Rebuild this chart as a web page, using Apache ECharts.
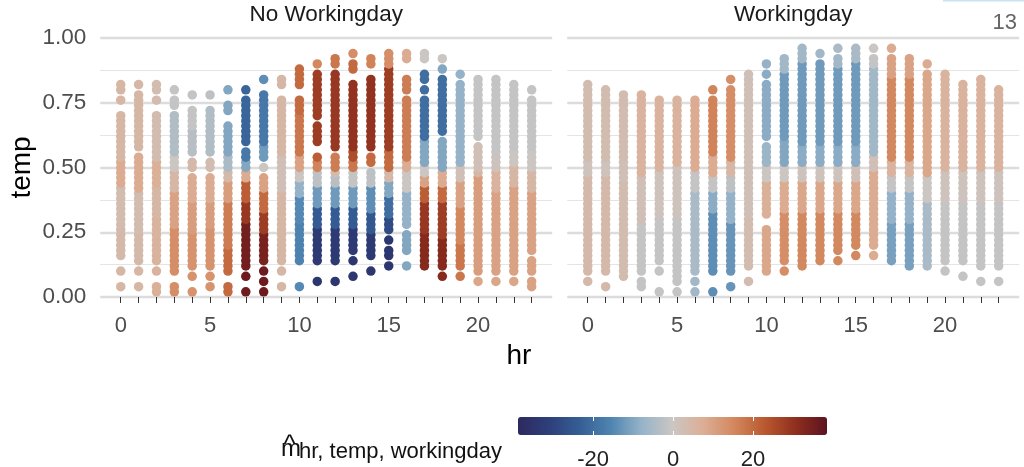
<!DOCTYPE html>
<html><head><meta charset="utf-8">
<script src="https://cdn.jsdelivr.net/npm/echarts@6/dist/echarts.min.js"></script>
<style>html,body{margin:0;padding:0;background:#fff}#c{width:1024px;height:467px}</style>
</head><body><div id="c"></div>
<script>
// ---------------- data ----------------
const hours = [0,1,2,3,4,5,6,7,8,9,10,11,12,13,14,15,16,17,18,19,20,21,22,23];
const hourLabels = [0,5,10,15,20];
const tempTicks = [0,0.25,0.5,0.75,1];
const legendTicks = [-20,0,20];
const effectRange = [-38.8, 38.5];
const panelTitles = ['No Workingday','Workingday'];

// per hour: observed temp runs [tempFrom, tempTo, effect m̂] (temps observed every 0.02)
const noWorkingday = [
 [[0.04,0.04,5],[0.10,0.10,5],[0.16,0.26,4],[0.28,0.42,3],[0.44,0.52,8],[0.54,0.70,5],[0.76,0.76,5],[0.80,0.82,5]],
 [[0.04,0.04,5],[0.10,0.10,5],[0.14,0.24,4],[0.26,0.40,3],[0.42,0.54,8],[0.58,0.78,5],[0.82,0.82,5]],
 [[0.02,0.04,7],[0.10,0.10,6],[0.14,0.30,6],[0.32,0.42,5],[0.44,0.52,7],[0.54,0.70,3],[0.76,0.76,3],[0.80,0.82,3]],
 [[0.02,0.04,14],[0.10,0.26,14],[0.28,0.40,10],[0.42,0.48,5],[0.50,0.54,0],[0.56,0.70,-4],[0.74,0.76,-1],[0.80,0.80,-1]],
 [[0.02,0.02,13],[0.08,0.08,13],[0.12,0.24,13],[0.26,0.36,11],[0.38,0.46,8],[0.50,0.52,4],[0.56,0.64,-3],[0.66,0.72,-1],[0.78,0.78,-1]],
 [[0.04,0.04,13],[0.08,0.08,13],[0.12,0.26,13],[0.28,0.36,11],[0.38,0.46,8],[0.50,0.52,3],[0.56,0.72,-4],[0.78,0.78,-2]],
 [[0.02,0.04,20],[0.10,0.18,20],[0.20,0.36,17],[0.38,0.44,11],[0.46,0.48,4],[0.50,0.54,-5],[0.56,0.66,-10],[0.72,0.74,-10],[0.80,0.80,-10]],
 [[0.02,0.02,36],[0.08,0.08,36],[0.12,0.28,35],[0.30,0.36,29],[0.38,0.44,22],[0.46,0.48,8],[0.50,0.52,-10],[0.54,0.56,-18],[0.60,0.76,-22],[0.80,0.80,-22]],
 [[0.02,0.02,36],[0.06,0.06,36],[0.10,0.10,36],[0.14,0.24,34],[0.26,0.32,28],[0.34,0.40,20],[0.42,0.46,10],[0.50,0.50,0],[0.54,0.58,-12],[0.60,0.78,-18],[0.84,0.84,-14]],
 [[0.04,0.04,5],[0.10,0.10,5],[0.14,0.40,5],[0.42,0.54,2],[0.56,0.76,5],[0.82,0.84,5]],
 [[0.04,0.04,-15],[0.14,0.28,-16],[0.30,0.38,-15],[0.40,0.44,-8],[0.46,0.48,0],[0.50,0.54,10],[0.56,0.70,18],[0.72,0.76,20],[0.82,0.88,20]],
 [[0.06,0.06,-34],[0.14,0.26,-33],[0.28,0.34,-24],[0.36,0.42,-12],[0.44,0.48,-2],[0.50,0.52,16],[0.54,0.54,22],[0.60,0.66,28],[0.70,0.86,28],[0.90,0.90,15]],
 [[0.06,0.06,-34],[0.14,0.26,-33],[0.28,0.34,-24],[0.36,0.42,-12],[0.44,0.46,-3],[0.48,0.48,3],[0.50,0.54,17],[0.58,0.86,29],[0.90,0.92,18]],
 [[0.08,0.08,-34],[0.14,0.14,-34],[0.18,0.26,-33],[0.28,0.34,-24],[0.36,0.42,-12],[0.44,0.48,-1],[0.50,0.52,18],[0.54,0.56,25],[0.58,0.82,30],[0.88,0.90,20],[0.94,0.94,14]],
 [[0.10,0.10,-34],[0.16,0.24,-33],[0.26,0.32,-25],[0.34,0.42,-14],[0.44,0.48,-2],[0.52,0.54,20],[0.58,0.84,30],[0.90,0.92,16]],
 [[0.12,0.12,-34],[0.16,0.18,-34],[0.22,0.22,-34],[0.26,0.30,-28],[0.32,0.38,-20],[0.40,0.44,-10],[0.46,0.48,4],[0.50,0.56,20],[0.58,0.88,28],[0.90,0.94,14]],
 [[0.12,0.12,-10],[0.18,0.24,-10],[0.28,0.40,-8],[0.42,0.48,0],[0.50,0.52,8],[0.54,0.76,17],[0.80,0.84,17],[0.92,0.94,8]],
 [[0.12,0.24,32],[0.26,0.36,29],[0.38,0.42,22],[0.44,0.46,10],[0.48,0.50,0],[0.52,0.60,-10],[0.62,0.76,-20],[0.80,0.80,-20],[0.84,0.86,-20],[0.92,0.94,0]],
 [[0.08,0.08,32],[0.12,0.22,32],[0.24,0.36,28],[0.38,0.42,20],[0.44,0.48,8],[0.50,0.60,-10],[0.64,0.80,-20],[0.82,0.84,-20],[0.88,0.88,-10],[0.92,0.92,0]],
 [[0.08,0.08,18],[0.12,0.20,18],[0.22,0.34,15],[0.36,0.44,10],[0.46,0.50,2],[0.52,0.82,-8],[0.86,0.86,-8]],
 [[0.06,0.06,9],[0.10,0.20,11],[0.22,0.46,11],[0.48,0.48,5],[0.50,0.58,2],[0.62,0.78,-1],[0.80,0.84,-1]],
 [[0.06,0.06,9],[0.10,0.40,10],[0.42,0.48,6],[0.50,0.54,1],[0.56,0.84,-1]],
 [[0.06,0.06,9],[0.10,0.18,10],[0.20,0.42,10],[0.44,0.50,5],[0.52,0.56,0],[0.58,0.82,-1]],
 [[0.04,0.06,10],[0.10,0.14,10],[0.18,0.40,10],[0.42,0.48,5],[0.50,0.56,0],[0.58,0.76,-1],[0.80,0.80,-1]]
];

const workingday = [
 [[0.06,0.06,4],[0.10,0.46,4],[0.48,0.52,1],[0.54,0.82,3]],
 [[0.04,0.04,4],[0.10,0.46,4],[0.48,0.52,1],[0.54,0.80,3]],
 [[0.08,0.44,3],[0.46,0.52,2],[0.54,0.78,3]],
 [[0.04,0.06,-1],[0.10,0.28,-1],[0.30,0.46,2],[0.48,0.78,6]],
 [[0.02,0.02,-1],[0.10,0.10,-1],[0.14,0.30,-1],[0.32,0.48,1],[0.50,0.76,6]],
 [[0.02,0.02,-1],[0.06,0.30,-1],[0.32,0.50,1],[0.52,0.76,6]],
 [[0.02,0.02,-6],[0.06,0.06,-6],[0.10,0.40,-5],[0.42,0.48,-1],[0.50,0.76,8]],
 [[0.02,0.02,-14],[0.10,0.32,-14],[0.34,0.40,-9],[0.42,0.46,-1],[0.48,0.54,8],[0.56,0.76,16],[0.80,0.80,16]],
 [[0.04,0.04,-13],[0.10,0.28,-13],[0.30,0.40,-8],[0.42,0.46,-2],[0.48,0.52,5],[0.54,0.80,14],[0.84,0.84,14]],
 [[0.06,0.06,3],[0.12,0.30,3],[0.32,0.86,2]],
 [[0.10,0.26,9],[0.32,0.44,7],[0.46,0.50,0],[0.52,0.58,-7],[0.62,0.82,-9],[0.86,0.86,-9],[0.90,0.90,-8]],
 [[0.10,0.10,14],[0.14,0.32,14],[0.34,0.44,8],[0.46,0.50,0],[0.52,0.60,-10],[0.62,0.86,-12],[0.88,0.92,-6]],
 [[0.12,0.12,15],[0.14,0.32,15],[0.34,0.44,9],[0.46,0.50,1],[0.52,0.58,-9],[0.60,0.90,-12],[0.92,0.96,-6]],
 [[0.14,0.32,15],[0.34,0.44,9],[0.46,0.50,1],[0.52,0.58,-9],[0.60,0.90,-12],[0.94,0.94,-6]],
 [[0.14,0.14,15],[0.18,0.32,15],[0.34,0.44,9],[0.46,0.50,1],[0.52,0.58,-9],[0.60,0.88,-12],[0.90,0.92,-6],[0.96,0.96,-5]],
 [[0.16,0.16,15],[0.20,0.32,15],[0.34,0.44,9],[0.46,0.50,2],[0.52,0.58,-9],[0.60,0.90,-12],[0.92,0.96,-5]],
 [[0.16,0.16,8],[0.20,0.48,8],[0.50,0.54,2],[0.56,0.88,-6],[0.90,0.92,-1],[0.96,0.96,0]],
 [[0.14,0.28,-11],[0.30,0.40,-8],[0.42,0.46,-1],[0.48,0.52,6],[0.54,0.84,15],[0.86,0.92,10],[0.96,0.96,8]],
 [[0.12,0.28,-11],[0.30,0.40,-8],[0.42,0.46,-1],[0.48,0.52,6],[0.54,0.84,15],[0.86,0.92,10]],
 [[0.12,0.36,-5],[0.38,0.46,0],[0.48,0.86,9],[0.90,0.90,8]],
 [[0.10,0.10,-1],[0.14,0.36,-1],[0.38,0.48,1],[0.50,0.86,6]],
 [[0.08,0.08,-1],[0.14,0.36,-1],[0.38,0.48,1],[0.50,0.82,6]],
 [[0.06,0.06,-1],[0.12,0.36,-1],[0.38,0.48,1],[0.50,0.84,6]],
 [[0.06,0.06,-1],[0.12,0.36,-1],[0.38,0.48,1],[0.50,0.80,6]]
];

// ---------------- style ----------------
const palette = ['#2c2a5e','#2e3f7a','#355e95','#4f84b0','#96b3c8','#cbc6c3','#dcae95','#d3875e','#b9582f','#8e2e1e','#5c1320'];
const FONT = "'Liberation Sans', Arial, sans-serif";

// expand runs into observed points (temp is recorded in steps of 0.02)
function toPoints(rows){
  const out = [];
  rows.forEach((segs, h) => {
    segs.forEach(([lo, hi, m]) => {
      for (let k = Math.round(lo*50); k <= Math.round(hi*50); k++) out.push([hours[h], k/50, m]);
    });
  });
  return out;
}

const chart = echarts.init(document.getElementById('c'), null, {renderer:'canvas'});
const panelLefts = [100.2, 567.2];
const PW = 452, PT = 38, PH = 259;

const xPanel = i => ({
  type:'value', gridIndex:i, min:-1.15, max:24.15,
  axisLine:{show:false},
  axisTick:{show:true, customValues:hours, length:6, lineStyle:{color:'#333', width:1}},
  axisLabel:{customValues:hourLabels, fontSize:22, color:'#4d4d4d', margin:18, fontFamily:FONT},
  splitLine:{show:false}
});
const yPanel = i => ({
  type:'value', gridIndex:i, min:0, max:1, interval:0.25,
  axisLine:{show:false}, axisTick:{show:false},
  axisLabel:{show:i===0, formatter:v=>v.toFixed(2), fontSize:22.5, color:'#4d4d4d', margin:14, fontFamily:FONT},
  splitLine:{show:true, lineStyle:{color:'#dcdcdc', width:2.4}},
  minorTick:{show:false, splitNumber:2},
  minorSplitLine:{show:true, lineStyle:{color:'#e4e4e4', width:1.2}}
});

const option = {
  animation:false,
  backgroundColor:'#fff',
  textStyle:{fontFamily:FONT},
  grid:[
    {left:panelLefts[0], top:PT, width:PW, height:PH, outerBoundsMode:'none', containLabel:false},
    {left:panelLefts[1], top:PT, width:PW, height:PH, outerBoundsMode:'none', containLabel:false},
    {left:518, top:417, width:309, height:18, outerBoundsMode:'none', containLabel:false}
  ],
  xAxis:[
    xPanel(0), xPanel(1),
    {type:'value', gridIndex:2, min:effectRange[0], max:effectRange[1], position:'bottom', z:10,
     axisLine:{show:false},
     axisTick:{show:true, inside:true, length:4, customValues:legendTicks, lineStyle:{color:'#fff', width:1}},
     axisLabel:{customValues:legendTicks, fontSize:22, color:'#222', margin:14, fontFamily:FONT},
     splitLine:{show:false}},
    {type:'value', gridIndex:2, min:effectRange[0], max:effectRange[1], position:'top', z:10,
     axisLine:{show:false},
     axisTick:{show:true, inside:true, length:4, customValues:legendTicks, lineStyle:{color:'#fff', width:1}},
     axisLabel:{show:false}, splitLine:{show:false}}
  ],
  yAxis:[ yPanel(0), yPanel(1), {type:'value', gridIndex:2, show:false, min:0, max:1} ],
  visualMap:{
    type:'continuous', min:effectRange[0], max:effectRange[1], dimension:2, seriesIndex:[0,1],
    orient:'horizontal', left:518, top:417, itemWidth:18, itemHeight:309,
    calculable:false, hoverLink:false, padding:0, text:null, showLabel:false,
    inRange:{color:palette}
  },
  series:[
    {type:'scatter', xAxisIndex:0, yAxisIndex:0, data:toPoints(noWorkingday), symbolSize:9.5, silent:true, itemStyle:{opacity:1}},
    {type:'scatter', xAxisIndex:1, yAxisIndex:1, data:toPoints(workingday), symbolSize:9.5, silent:true, itemStyle:{opacity:1}}
  ],
  graphic:[
    {type:'text', x:panelLefts[0]+PW/2, y:15, style:{text:panelTitles[0], fontSize:22.5, fontFamily:FONT, fill:'#1a1a1a', align:'center', verticalAlign:'middle', textAlign:'center', textVerticalAlign:'middle'}},
    {type:'text', x:panelLefts[1]+PW/2, y:15, style:{text:panelTitles[1], fontSize:22.5, fontFamily:FONT, fill:'#1a1a1a', align:'center', verticalAlign:'middle', textAlign:'center', textVerticalAlign:'middle'}},
    {type:'text', x:22, y:PT+PH/2, rotation:Math.PI/2, style:{text:'temp', fontSize:28, fontFamily:FONT, fill:'#000', align:'center', verticalAlign:'middle', textAlign:'center', textVerticalAlign:'middle'}},
    {type:'text', x:519, y:356, style:{text:'hr', fontSize:28, fontFamily:FONT, fill:'#000', align:'center', verticalAlign:'middle', textAlign:'center', textVerticalAlign:'middle'}},
    {type:'text', x:1017, y:23, style:{text:'13', fontSize:22, fontFamily:FONT, fill:'#666', align:'right', verticalAlign:'middle', textAlign:'right', textVerticalAlign:'middle'}},
    {type:'rect', shape:{x:943, y:0, width:81, height:1.5}, style:{fill:'#c6e3f0'}},
    {type:'text', x:281, y:449, style:{text:'m', fontSize:24, fontFamily:FONT, fill:'#111', align:'left', verticalAlign:'middle', textAlign:'left', textVerticalAlign:'middle'}},
    {type:'text', x:289.5, y:446, style:{text:'^', fontSize:26, fontFamily:FONT, fill:'#111', align:'center', verticalAlign:'middle', textAlign:'center', textVerticalAlign:'middle'}},
    {type:'text', x:299, y:452, style:{text:'hr, temp, workingday', fontSize:22, fontFamily:FONT, fill:'#111', align:'left', verticalAlign:'middle', textAlign:'left', textVerticalAlign:'middle'}}
  ]
};
chart.setOption(option);
</script>
</body></html>
